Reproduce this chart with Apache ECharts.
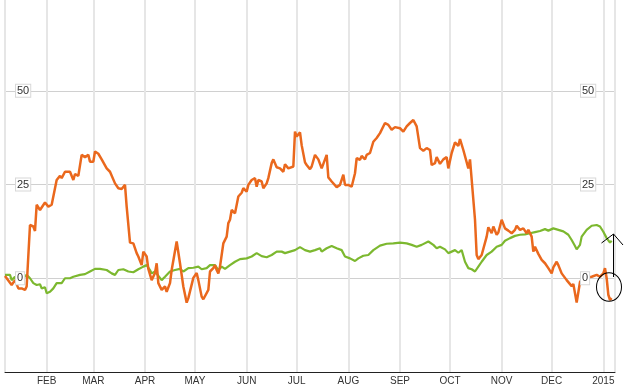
<!DOCTYPE html>
<html>
<head>
<meta charset="utf-8">
<script src="https://cdn.jsdelivr.net/npm/echarts@6/dist/echarts.min.js"></script>
<style>
html,body{margin:0;padding:0;background:#fff;}
#chart{width:624px;height:387px;}
</style>
</head>
<body>
<div id="chart"></div>
<script>
const MONTH_LABELS = ['JAN','FEB','MAR','APR','MAY','JUN','JUL','AUG','SEP','OCT','NOV','DEC'];
const Y_TICKS = [0, 25, 50];

const orangeDates = ['2014-01-07','2014-01-11','2014-01-13','2014-01-15','2014-01-17','2014-01-19','2014-01-20','2014-01-22','2014-01-24','2014-01-25','2014-01-26','2014-01-28','2014-01-31',
'2014-02-02','2014-02-04','2014-02-07','2014-02-09','2014-02-10','2014-02-12','2014-02-15','2014-02-17','2014-02-18','2014-02-20','2014-02-22','2014-02-24','2014-02-26','2014-02-27',
'2014-03-01','2014-03-02','2014-03-04','2014-03-06','2014-03-09','2014-03-11','2014-03-14','2014-03-16','2014-03-18','2014-03-20','2014-03-21','2014-03-23','2014-03-25','2014-03-27','2014-03-28','2014-03-30','2014-03-31',
'2014-04-02','2014-04-03','2014-04-05','2014-04-07','2014-04-08','2014-04-09','2014-04-11','2014-04-13','2014-04-14','2014-04-16','2014-04-17','2014-04-20','2014-04-22','2014-04-24','2014-04-26','2014-04-27','2014-04-30',
'2014-05-02','2014-05-03','2014-05-05','2014-05-06','2014-05-09','2014-05-10','2014-05-12','2014-05-13','2014-05-14','2014-05-15','2014-05-16','2014-05-17','2014-05-18','2014-05-20','2014-05-21','2014-05-22','2014-05-23','2014-05-25','2014-05-26','2014-05-27','2014-05-29','2014-05-30',
'2014-06-01','2014-06-02','2014-06-04','2014-06-06','2014-06-07','2014-06-08','2014-06-10','2014-06-11','2014-06-13','2014-06-14','2014-06-16','2014-06-17','2014-06-19','2014-06-21','2014-06-23','2014-06-24','2014-06-26','2014-06-27','2014-06-29','2014-06-30',
'2014-07-01','2014-07-03','2014-07-04','2014-07-06','2014-07-07','2014-07-09','2014-07-10','2014-07-12','2014-07-14','2014-07-16','2014-07-19','2014-07-20','2014-07-22','2014-07-25','2014-07-27','2014-07-29','2014-07-30',
'2014-08-01','2014-08-03','2014-08-05','2014-08-06','2014-08-08','2014-08-09','2014-08-11','2014-08-12','2014-08-14','2014-08-16','2014-08-18','2014-08-20','2014-08-21','2014-08-23','2014-08-25','2014-08-27','2014-08-29',
'2014-09-01','2014-09-03','2014-09-05','2014-09-07','2014-09-09','2014-09-11','2014-09-13','2014-09-15','2014-09-17','2014-09-19','2014-09-20','2014-09-22','2014-09-23','2014-09-25','2014-09-27','2014-09-29','2014-09-30',
'2014-10-02','2014-10-04','2014-10-06','2014-10-07','2014-10-09','2014-10-10','2014-10-12','2014-10-13','2014-10-14','2014-10-16','2014-10-17','2014-10-18','2014-10-20','2014-10-23','2014-10-24','2014-10-26','2014-10-27','2014-10-29','2014-10-30',
'2014-11-01','2014-11-03','2014-11-05','2014-11-07','2014-11-09','2014-11-10','2014-11-12','2014-11-14','2014-11-16','2014-11-17','2014-11-19','2014-11-20','2014-11-21','2014-11-23','2014-11-25','2014-11-27','2014-11-29',
'2014-12-01','2014-12-02','2014-12-04','2014-12-05','2014-12-07','2014-12-08','2014-12-10','2014-12-11','2014-12-13','2014-12-14','2014-12-16','2014-12-18','2014-12-20','2014-12-22','2014-12-25','2014-12-28','2014-12-30',
'2015-01-01','2015-01-02','2015-01-03','2015-01-04','2015-01-05','2015-01-06'];
const orangeValues = [0.6,-1.8,-0.5,-2.7,-2.7,-3.1,-2.2,14.2,13.8,12.6,19.6,18.2,20.2,
19.1,19.6,26.2,27.3,26.7,28.4,28.4,26.2,27.8,27.3,32.9,32.3,32.9,31.1,
31.1,33.8,33.2,31.7,29.3,28.4,25.3,24.0,23.8,24.9,19.1,9.5,9.3,6.7,5.8,3.5,7.1,
5.8,2.5,-0.5,1.4,4.0,-1.3,-3.1,-2.2,-3.6,-1.3,2.2,9.8,4.0,-2.2,-6.5,-5.3,0.1,
1.4,-0.5,-4.9,-5.6,-3.1,1.8,2.7,3.5,2.2,1.3,3.1,6.2,9.3,11.1,14.7,15.6,18.2,17.3,17.8,21.8,22.8,24.0,
23.1,24.9,26.2,26.7,24.4,26.2,25.8,24.0,25.3,26.7,30.7,31.7,29.6,29.3,28.4,30.4,29.3,29.8,29.8,39.1,
37.8,38.9,35.5,30.9,30.2,29.1,29.8,32.9,31.7,29.3,32.9,26.9,25.8,24.3,24.9,27.6,24.9,
24.9,24.4,28.0,32.0,31.6,32.6,31.7,32.9,33.4,36.4,37.4,38.7,38.9,41.4,40.9,39.6,40.3,
40.0,39.1,40.5,41.4,42.2,40.5,34.7,34.0,34.7,34.2,30.2,30.7,32.3,30.5,31.7,32.3,29.3,
33.4,36.2,35.3,37.1,34.2,33.8,29.3,31.7,31.6,15.6,6.2,5.1,6.2,11.1,13.6,12.0,13.8,11.6,12.2,
15.6,13.3,12.7,12.0,12.9,14.0,12.9,13.3,12.0,12.9,11.1,7.1,8.4,6.5,4.9,4.0,2.7,
1.3,2.9,4.4,3.5,1.3,1.5,-0.5,-0.3,-2.1,-1.5,-6.5,-1.0,0.2,0.2,0.4,0.9,0.4,
1.3,2.7,0,-4.4,-5.8,-5.3];

const greenDates = ['2014-01-07','2014-01-10','2014-01-11','2014-01-13','2014-01-14','2014-01-17','2014-01-20','2014-01-22','2014-01-24','2014-01-26','2014-01-28','2014-01-29','2014-01-31',
'2014-02-01','2014-02-03','2014-02-05','2014-02-07','2014-02-08','2014-02-10','2014-02-12','2014-02-15','2014-02-17','2014-02-21','2014-02-24','2014-02-27',
'2014-03-02','2014-03-05','2014-03-09','2014-03-12','2014-03-14','2014-03-16','2014-03-19','2014-03-22','2014-03-25','2014-03-28','2014-03-31',
'2014-04-02','2014-04-04','2014-04-05','2014-04-07','2014-04-08','2014-04-11','2014-04-13','2014-04-16','2014-04-19','2014-04-22','2014-04-24','2014-04-27','2014-04-30',
'2014-05-03','2014-05-05','2014-05-08','2014-05-10','2014-05-13','2014-05-15','2014-05-17','2014-05-19','2014-05-22','2014-05-25','2014-05-28',
'2014-06-01','2014-06-04','2014-06-07','2014-06-10','2014-06-13','2014-06-16','2014-06-19','2014-06-22','2014-06-24','2014-06-27','2014-06-30',
'2014-07-03','2014-07-06','2014-07-09','2014-07-12','2014-07-15','2014-07-16','2014-07-19','2014-07-22','2014-07-25','2014-07-28','2014-07-30',
'2014-08-02','2014-08-05','2014-08-07','2014-08-10','2014-08-13','2014-08-16','2014-08-20','2014-08-24','2014-08-28',
'2014-09-01','2014-09-05','2014-09-08','2014-09-11','2014-09-14','2014-09-18','2014-09-21','2014-09-23','2014-09-25','2014-09-28','2014-09-30',
'2014-10-02','2014-10-04','2014-10-06','2014-10-08','2014-10-10','2014-10-12','2014-10-14','2014-10-16','2014-10-18','2014-10-20','2014-10-23','2014-10-26','2014-10-29',
'2014-11-01','2014-11-03','2014-11-06','2014-11-09','2014-11-12','2014-11-15','2014-11-18','2014-11-21','2014-11-24','2014-11-27','2014-11-29',
'2014-12-02','2014-12-05','2014-12-08','2014-12-11','2014-12-13','2014-12-15','2014-12-16','2014-12-18','2014-12-19','2014-12-22','2014-12-25','2014-12-28','2014-12-30',
'2015-01-01','2015-01-03','2015-01-05','2015-01-06'];
const greenValues = [0.9,0.9,-0.5,0.4,-1.2,-0.3,0.9,0,-1.3,-1.8,-1.6,-2.7,-2.4,
-4.0,-3.6,-2.7,-1.3,-1.8,-1.3,0,0,0.4,0.9,1.1,1.8,
2.5,2.5,2.2,1.3,0.9,2.2,2.4,1.8,1.6,2.4,3.1,
3.5,2.2,1.3,1.8,1.3,-0.5,0.4,1.8,2.2,2.5,1.8,2.7,2.8,
3.1,2.4,2.7,3.5,3.5,2.2,3.1,2.5,3.5,4.4,5.1,
5.3,5.8,6.7,5.9,5.6,6.2,7.1,7.1,6.7,7.1,7.5,
8.3,7.5,7.1,7.5,8.0,7.1,8.0,8.6,8.0,7.5,5.8,
5.3,4.6,5.3,6.0,6.2,7.5,8.7,9.2,9.3,
9.5,9.3,8.9,8.4,8.9,9.8,8.9,8.0,8.4,7.7,6.7,
7.1,7.5,6.8,7.5,4.4,2.7,2.4,1.8,3.1,4.4,6.2,7.1,8.4,
8.9,10.0,10.7,11.3,11.6,11.7,12.0,12.3,12.6,13.1,12.7,
13.3,12.9,12.5,11.6,10.2,8.6,7.7,8.9,11.1,12.9,14.0,14.2,13.8,
12.4,10.7,9.5,10.0];

const zip = (d, v) => d.map((x, i) => [x, v[i]]);

const chart = echarts.init(document.getElementById('chart'), null, {renderer: 'canvas'});
const DAY = 86400000;
const labelStyle = {
  inside: true,
  fontSize: 11,
  fontFamily: 'Liberation Sans, Arial, sans-serif',
  color: '#333',
  backgroundColor: '#fff',
  borderColor: '#d8d8d8',
  borderWidth: 1,
  padding: [1, 1, 0, 1],
  showMinLabel: false,
  showMaxLabel: false,
  formatter: v => (Y_TICKS.indexOf(v) >= 0 ? String(v) : '')
};
chart.setOption({
  animation: false,
  backgroundColor: '#fff',
  grid: {left: 5, right: 9, top: -3, bottom: 15, containLabel: false, outerBoundsMode: 'none'},
  xAxis: {
    type: 'time',
    min: '2014-01-07',
    max: '2015-01-08',
    splitNumber: 12,
    minInterval: 28 * DAY,
    maxInterval: 31 * DAY,
    axisLine: {show: true, onZero: false, lineStyle: {color: '#222', width: 1}},
    axisTick: {show: false},
    splitLine: {show: true, lineStyle: {color: '#e6e6e6', width: 2}},
    axisLabel: {
      showMinLabel: false,
      showMaxLabel: false,
      margin: 4,
      fontSize: 10,
      fontFamily: 'Liberation Sans, Arial, sans-serif',
      color: '#333',
      formatter: function (value) {
        const d = new Date(value);
        return d.getMonth() === 0 ? String(d.getFullYear()) : MONTH_LABELS[d.getMonth()];
      }
    }
  },
  yAxis: [
    {type: 'value', min: -25, max: 75, interval: 25, position: 'left', z: 5,
      axisLine: {show: false}, axisTick: {show: false}, splitLine: {show: false},
      axisLabel: Object.assign({}, labelStyle, {margin: 11})},
    {type: 'value', min: -25, max: 75, interval: 25, position: 'right', z: 5,
      axisLine: {show: false}, axisTick: {show: false}, splitLine: {show: false},
      axisLabel: Object.assign({}, labelStyle, {margin: 34, align: 'left'})},
    {type: 'value', min: -25, max: 75, interval: 25, position: 'left', z: 0,
      axisLine: {show: false}, axisTick: {show: false}, axisLabel: {show: false},
      splitLine: {show: true, lineStyle: {color: '#d0d0d0', width: 1}}}
  ],
  series: [
    {type: 'line', name: 'green', yAxisIndex: 0, data: zip(greenDates, greenValues),
      showSymbol: false, symbol: 'none', lineStyle: {color: '#7cb82f', width: 2.2}, z: 2},
    {type: 'line', name: 'orange', yAxisIndex: 0, data: zip(orangeDates, orangeValues),
      showSymbol: false, symbol: 'none', lineStyle: {color: '#ea681d', width: 2.5}, z: 3}
  ],
  graphic: [
    {type: 'circle', shape: {cx: 0, cy: 0, r: 12.5}, x: 609, y: 287, scaleY: 1.14,
      style: {fill: 'none', stroke: '#000', lineWidth: 1}, z: 100},
    {type: 'polyline', shape: {points: [[613.5, 277], [613.5, 234]]},
      style: {stroke: '#000', lineWidth: 1, fill: 'none'}, z: 100},
    {type: 'polyline', shape: {points: [[601.5, 243], [613.5, 234], [623, 245]]},
      style: {stroke: '#000', lineWidth: 1, fill: 'none'}, z: 100}
  ]
});
</script>
</body>
</html>
